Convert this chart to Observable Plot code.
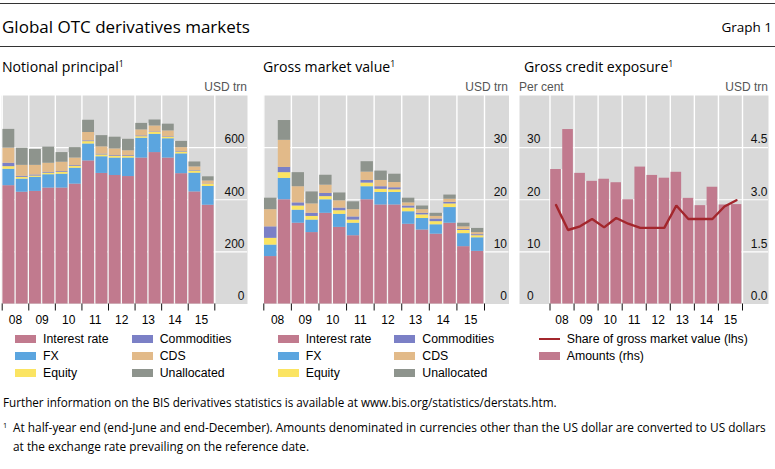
<!DOCTYPE html>
<html>
<head>
<meta charset="utf-8">
<script src="https://cdn.jsdelivr.net/npm/d3@7"></script>
<script src="https://cdn.jsdelivr.net/npm/@observablehq/plot@0.6"></script>
<style>
  html, body { margin: 0; padding: 0; background: #fff; }
  #root { position: relative; width: 775px; height: 469px; overflow: hidden; background: #fff; color: #000; }
  .t { position: absolute; white-space: nowrap; }
  .t sup { font-size: 0.62em; vertical-align: 0.55em; line-height: 0; }
  .hl { position: absolute; left: 0; width: 775px; background: #333; }
  .sw { position: absolute; }
  svg.panel { position: absolute; overflow: visible; }
</style>
</head>
<body>
<div id="root"></div>
<script>
// ---------------- data ----------------
const periods = ["Jun 2008","Dec 2008","Jun 2009","Dec 2009","Jun 2010","Dec 2010","Jun 2011","Dec 2011",
                 "Jun 2012","Dec 2012","Jun 2013","Dec 2013","Jun 2014","Dec 2014","Jun 2015","Dec 2015"];
const yearLabels = ["08","09","10","11","12","13","14","15"];
const series = ["Interest rate","FX","Equity","Commodities","CDS","Unallocated"];
const seriesColors = ["#c17a8e","#5ba5df","#fbe462","#7b80c6","#e2ba89","#8e948d"];

// Notional principal, USD trn
const notionalIR          = [454,429,432,445,445,460,549,501,493,489,560,581,560,500,430,379];
const notionalFX          = [63,50,54,51,53,61,65,64,67,71,76,70,74,76,72,72];
const notionalEquity      = [10,7,5,6,7,7,9,7,6,6,6,7,6,7,8,8];
const notionalCommodities = [13,4,4,3,3,3,3,3,3,3,3,2,2,2,2,1];
const notionalCDS         = [58,42,37,35,36,29,32,28,26,19,23,23,22,15,14,12];
const notionalUnallocated = [72,66,61,62,37,40,47,43,45,44,25,23,26,24,19,16];
const notionalTicks = [0,200,400,600];

// Gross market value, USD trn
const gmvIR          = [9.1,20.0,15.5,13.7,17.4,14.7,13.1,20.0,19.0,19.0,15.3,14.2,13.4,15.5,11.0,10.1];
const gmvFX          = [2.2,4.1,2.5,2.4,2.6,2.5,2.4,2.5,2.4,2.4,2.4,2.2,1.8,3.0,2.5,2.6];
const gmvEquity      = [1.3,1.1,0.8,0.7,0.6,0.7,0.6,0.7,0.6,0.5,0.7,0.7,0.6,0.7,0.6,0.4];
const gmvCommodities = [2.2,1.0,0.6,0.6,0.6,0.5,0.6,0.5,0.5,0.4,0.4,0.3,0.5,0.3,0.2,0.2];
const gmvCDS         = [3.3,5.2,3.1,1.8,1.6,1.4,1.4,1.6,1.2,1.0,0.6,0.7,0.5,0.6,0.5,0.4];
const gmvUnallocated = [2.2,3.8,2.7,2.3,1.9,1.5,1.5,2.0,1.8,1.6,0.9,0.7,0.6,0.8,0.7,0.8];
const gmvTicks = [0,10,20,30];

// Gross credit exposure
const gceAmounts = [3.87,5.02,3.76,3.53,3.59,3.49,3.00,3.94,3.70,3.62,3.79,3.04,2.83,3.36,2.85,2.86]; // USD trn (rhs)
const gceShare   = [19.0,14.2,14.9,16.3,14.7,16.5,15.4,14.6,14.6,14.6,18.9,16.3,16.3,16.3,18.7,19.9]; // per cent (lhs)
const gceRhsTicks = [0,1.5,3,4.5];
const gceLhsTicks = [0,10,20,30];

// ---------------- helpers ----------------
const BG = "#d9d9d9";
const LINE_RED = "#a3262c";
const CHART_FONT = "'Liberation Sans', Arial, sans-serif";
const TITLE_FONT = "'Open Sans', 'Noto Sans', sans-serif";
const W = 775;
const root = document.getElementById("root");

function txt(html, x, cy, size, opts = {}) {
  const d = document.createElement("div");
  d.className = "t";
  d.innerHTML = html;
  d.style.fontSize = size + "px";
  d.style.lineHeight = (size * 1.2) + "px";
  d.style.top = (cy - size * 0.6) + "px";
  if (opts.anchor === "end") d.style.right = (W - x) + "px"; else d.style.left = x + "px";
  d.style.fontFamily = opts.family || TITLE_FONT;
  if (opts.color) d.style.color = opts.color;
  root.appendChild(d);
}
function hline(y, h) {
  const d = document.createElement("div");
  d.className = "hl";
  d.style.top = y + "px";
  d.style.height = h + "px";
  root.appendChild(d);
}
function swatch(x, cy, color, type, label) {
  const s = document.createElement("div");
  s.className = "sw";
  s.style.left = x + "px";
  s.style.width = "21px";
  if (type === "line") { s.style.top = (cy - 1.2) + "px"; s.style.height = "2.4px"; }
  else { s.style.top = (cy - 4) + "px"; s.style.height = "8px"; }
  s.style.background = color;
  root.appendChild(s);
  txt(label, x + 28, cy, 12.3, {family: CHART_FONT, color: "#000"});
}

const N = periods.length;
const boundaries = d3.range(0, N + 1, 2);
const centers = d3.range(1, N, 2);
const innerGaps = d3.range(1, N, 2);

function place(svg, left, top) {
  svg.classList.add("panel");
  svg.style.left = left + "px";
  svg.style.top = top + "px";
  root.appendChild(svg);
}

const H = 250, TOP = 80, MT = 15, MB = 26.5;
const plotStyle = {background: "transparent", fontFamily: CHART_FONT, fontSize: "12px", color: "#000", overflow: "visible"};

function axisMarks() {
  return [
    Plot.axisX({ticks: boundaries, tickSize: 7, tickFormat: () => "", stroke: "#111"}),
    Plot.axisX({ticks: centers, tickSize: 0, tickPadding: 11, tickFormat: d => yearLabels[(d - 1) / 2], fontSize: 12})
  ];
}

function panelPlot(g, yMax, extraMarks, opts = {}) {
  return Plot.plot({
    width: g.w, height: H,
    marginLeft: g.gray[0] - g.left, marginRight: g.left + g.w - g.gray[1],
    marginTop: MT, marginBottom: MB,
    x: {domain: [0, N], range: [g.bars[0] - g.left, g.bars[1] - g.left], label: null, axis: opts.noAxis ? null : undefined},
    y: {domain: [0, yMax], label: null, axis: null},
    color: {domain: series, range: seriesColors},
    style: plotStyle,
    marks: extraMarks
  });
}

function stackedPanel(g, values, yMax, yTicks, labelDx) {
  const data = [];
  periods.forEach((p, i) => series.forEach((s, k) => data.push({i, period: p, series: s, value: values[k][i]})));
  const totals = periods.map((_, i) => d3.sum(values, v => v[i]));
  const svg = panelPlot(g, yMax, [
    Plot.frame({fill: BG, stroke: null}),
    Plot.ruleY(yTicks.slice(1), {stroke: "#fff", strokeWidth: 1.2}),
    Plot.ruleX(boundaries, {stroke: "#fff", strokeWidth: 1.4}),
    Plot.ruleX(innerGaps, {x: d => d, y1: 0, y2: d => Math.min(totals[d - 1], totals[d]), stroke: "#fff", strokeWidth: 1.4}),
    Plot.rectY(data, {x1: "i", x2: d => d.i + 1, y: "value", fill: "series", insetLeft: 0.7, insetRight: 0.7}),
    Plot.text(yTicks, {y: d => d, text: d => String(d), frameAnchor: "right", textAnchor: "end", dx: labelDx, dy: -8, fontSize: 12, fill: "#111"}),
    ...axisMarks()
  ]);
  place(svg, g.left, TOP);
}

// ---------------- header ----------------
hline(3, 1.2);
txt("Global OTC derivatives markets", 2, 27, 17);
txt("Graph 1", 772, 27, 13.5, {anchor: "end"});
hline(46, 1);

txt("Notional principal<sup>1</sup>", 2, 67, 14.1);
txt("Gross market value<sup>1</sup>", 263, 67, 14.1);
txt("Gross credit exposure<sup>1</sup>", 524, 67, 14.1);

txt("USD trn", 247, 87, 12, {anchor: "end", family: CHART_FONT, color: "#555"});
txt("USD trn", 508, 87, 12, {anchor: "end", family: CHART_FONT, color: "#555"});
txt("Per cent", 519, 87, 12, {family: CHART_FONT, color: "#555"});
txt("USD trn", 768, 87, 12, {anchor: "end", family: CHART_FONT, color: "#555"});

// ---------------- panels ----------------
stackedPanel({left: 0, w: 260, gray: [1, 247], bars: [1.7, 214.3]},
  [notionalIR, notionalFX, notionalEquity, notionalCommodities, notionalCDS, notionalUnallocated],
  800, notionalTicks, -3);

stackedPanel({left: 260, w: 260, gray: [262.5, 508.5], bars: [263.3, 484]},
  [gmvIR, gmvFX, gmvEquity, gmvCommodities, gmvCDS, gmvUnallocated],
  40, gmvTicks, -2);

// Gross credit exposure: bars (rhs) + line (lhs) on two overlaid plots
const g3 = {left: 516, w: 259, gray: [519, 768], bars: [549.5, 742]};
const gceData = periods.map((p, i) => ({i, period: p, amount: gceAmounts[i], share: gceShare[i]}));
const svgBars = panelPlot(g3, 6, [
  Plot.frame({fill: BG, stroke: null}),
  Plot.ruleY(gceRhsTicks.slice(1), {stroke: "#fff", strokeWidth: 1.2}),
  Plot.ruleX(boundaries, {stroke: "#fff", strokeWidth: 1.4}),
  Plot.ruleX(innerGaps, {x: d => d, y1: 0, y2: d => Math.min(gceAmounts[d - 1], gceAmounts[d]), stroke: "#fff", strokeWidth: 1.4}),
  Plot.rectY(gceData, {x1: "i", x2: d => d.i + 1, y1: 0, y2: "amount", fill: seriesColors[0], insetLeft: 0.7, insetRight: 0.7}),
  Plot.text(gceRhsTicks, {y: d => d, text: d => d.toFixed(1), frameAnchor: "right", textAnchor: "end", dx: -1, dy: -8, fontSize: 12, fill: "#111"}),
  ...axisMarks()
]);
place(svgBars, g3.left, TOP);

const svgLine = panelPlot(g3, 40, [
  Plot.line(gceData, {x: d => d.i + 0.5, y: "share", stroke: LINE_RED, strokeWidth: 2.4, strokeLinejoin: "miter"}),
  Plot.text(gceLhsTicks, {y: d => d, text: d => String(d), frameAnchor: "left", textAnchor: "start", dx: 7.5, dy: -8, fontSize: 12, fill: "#111"})
], {noAxis: true});
place(svgLine, g3.left, TOP);

// ---------------- legends ----------------
const rows = [339.3, 356.3, 373];
function stackedLegend(x0, x1) {
  series.forEach((s, k) => {
    const col = k < 3 ? x0 : x1;
    swatch(col, rows[k % 3], seriesColors[k], "rect", s);
  });
}
stackedLegend(15, 131.7);
stackedLegend(277.7, 394.3);
swatch(538.7, rows[0], LINE_RED, "line", "Share of gross market value (lhs)");
swatch(538.7, rows[1], seriesColors[0], "rect", "Amounts (rhs)");

// ---------------- footer ----------------
txt("Further information on the BIS derivatives statistics is available at www.bis.org/statistics/derstats.htm.", 3, 402, 11.7);
txt("<sup>1</sup>", 3, 427, 11.8);
txt("At half-year end (end-June and end-December). Amounts denominated in currencies other than the US dollar are converted to US dollars", 13, 427, 11.85);
txt("at the exchange rate prevailing on the reference date.", 13, 446, 11.85);
</script>
</body>
</html>
